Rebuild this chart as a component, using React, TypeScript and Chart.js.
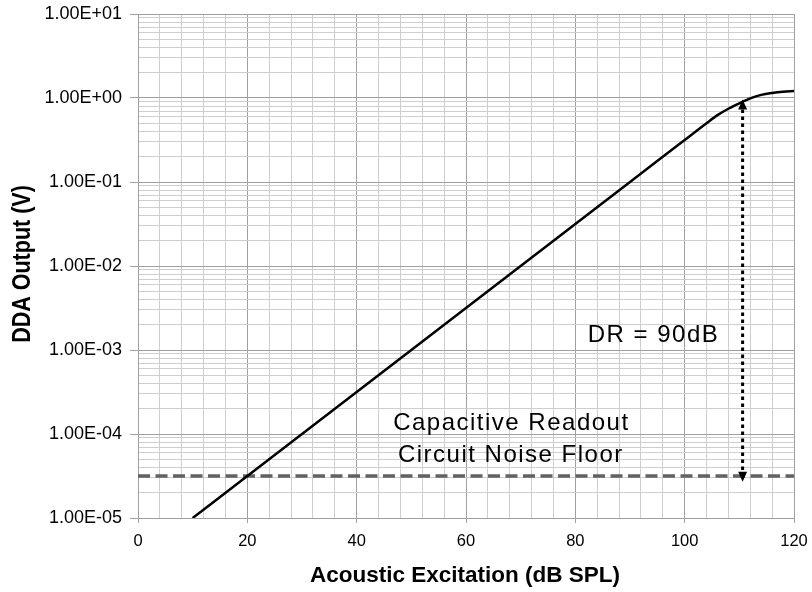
import React, { useEffect, useRef } from "react";
import { Chart, registerables } from "chart.js";

Chart.register(...registerables);

// Transfer curve: acoustic excitation (dB SPL) vs. DDA output (V)
const excitationDb = [10, 20, 30, 40, 50, 60, 70, 80, 90, 100, 104, 106, 108, 110, 112, 114, 116, 118, 120];
const outputVolts = [
  1.0e-5, 3.16e-5, 1.0e-4, 3.16e-4, 1.0e-3, 3.16e-3, 1.0e-2, 3.16e-2, 0.1, 0.316,
  0.501, 0.625, 0.745, 0.865, 0.99, 1.09, 1.15, 1.19, 1.21,
];

// Capacitive readout circuit noise floor
const noiseFloorDb = [0, 120];
const noiseFloorVolts = [3.16e-5, 3.16e-5];

// Dynamic-range marker (vertical double arrow)
const dynamicRangeDb = 110.6;
const dynamicRangeTopVolts = 0.96;
const dynamicRangeBottomVolts = 2.7e-5;

// Axis ticks
const xTickLabels = [0, 20, 40, 60, 80, 100, 120];
const xMinorStep = 4;
const yDecades = [1e-5, 1e-4, 1e-3, 1e-2, 1e-1, 1e0, 1e1];
const yDecadeLabels = ["1.00E-05", "1.00E-04", "1.00E-03", "1.00E-02", "1.00E-01", "1.00E+00", "1.00E+01"];
const yMinorMultipliers = [2, 3, 4, 5, 6, 7, 8, 9];

const FONT = "'Liberation Sans', Arial, Helvetica, sans-serif";
const MAJOR_GRID = "#a0a0a0";
const MINOR_GRID = "#cecece";

const isDecade = (v: number) => Math.abs(Math.log10(v) - Math.round(Math.log10(v))) < 1e-9;

const annotationPlugin = {
  id: "ddaAnnotations",
  afterDatasetsDraw(chart: any) {
    const { ctx, scales } = chart;
    const xs = scales.x;
    const ys = scales.y;
    const x = xs.getPixelForValue(dynamicRangeDb);
    const yTop = ys.getPixelForValue(dynamicRangeTopVolts);
    const yBot = ys.getPixelForValue(dynamicRangeBottomVolts);
    const head = 10;
    const half = 4.5;
    ctx.save();
    ctx.strokeStyle = "#000";
    ctx.lineWidth = 3;
    ctx.setLineDash([3.5, 3.5]);
    ctx.beginPath();
    ctx.moveTo(x, yTop + head);
    ctx.lineTo(x, yBot - head);
    ctx.stroke();
    ctx.setLineDash([]);
    ctx.fillStyle = "#000";
    ctx.beginPath();
    ctx.moveTo(x, yTop);
    ctx.lineTo(x - half, yTop + head);
    ctx.lineTo(x + half, yTop + head);
    ctx.closePath();
    ctx.fill();
    ctx.beginPath();
    ctx.moveTo(x, yBot);
    ctx.lineTo(x - half, yBot - head);
    ctx.lineTo(x + half, yBot - head);
    ctx.closePath();
    ctx.fill();
    ctx.restore();
  },
  afterDraw(chart: any) {
    const { ctx, scales, chartArea } = chart;
    const xs = scales.x;
    const ys = scales.y;
    ctx.save();
    ctx.fillStyle = "#000";
    ctx.textAlign = "center";
    ctx.textBaseline = "alphabetic";
    (ctx as any).letterSpacing = "1.5px";
    ctx.font = `24px ${FONT}`;
    ctx.fillText("DR = 90dB", xs.getPixelForValue(94.3), ys.getPixelForValue(1.26e-3));
    ctx.fillText("Capacitive Readout", xs.getPixelForValue(68.3), ys.getPixelForValue(1.117e-4));
    ctx.fillText("Circuit Noise Floor", xs.getPixelForValue(68.2), ys.getPixelForValue(4.64e-5));
    (ctx as any).letterSpacing = "0px";

    // Axis titles
    ctx.font = `bold 22.5px ${FONT}`;
    ctx.fillText("Acoustic Excitation (dB SPL)", (chartArea.left + chartArea.right) / 2 - 1, 582);

    ctx.translate(23, (chartArea.top + chartArea.bottom) / 2 - 2);
    ctx.rotate(-Math.PI / 2);
    ctx.scale(0.86, 1);
    ctx.textBaseline = "middle";
    ctx.font = `bold 25px ${FONT}`;
    ctx.fillText("DDA Output (V)", 0, 0);
    ctx.restore();
  },
};

export default function App() {
  const canvasRef = useRef<HTMLCanvasElement | null>(null);

  useEffect(() => {
    if (!canvasRef.current) return;
    const chart = new Chart(canvasRef.current, {
      type: "line",
      data: {
        datasets: [
          {
            label: "DDA output",
            data: excitationDb.map((x, i) => ({ x, y: outputVolts[i] })),
            borderColor: "#000",
            borderWidth: 2.5,
            pointRadius: 0,
            cubicInterpolationMode: "monotone",
            fill: false,
          },
          {
            label: "Noise floor",
            data: noiseFloorDb.map((x, i) => ({ x, y: noiseFloorVolts[i] })),
            borderColor: "#626262",
            borderWidth: 3.5,
            borderDash: [12, 5.5],
            pointRadius: 0,
            fill: false,
          },
        ],
      },
      options: {
        responsive: false,
        animation: false,
        devicePixelRatio: 1,
        layout: { padding: { top: 14, right: 18, left: 0, bottom: 0 } },
        plugins: { legend: { display: false }, tooltip: { enabled: false } },
        scales: {
          x: {
            type: "linear",
            min: 0,
            max: 120,
            afterFit: (scale: any) => {
              scale.height = 74;
              scale.paddingLeft = 0;
              scale.paddingRight = 0;
            },
            ticks: {
              stepSize: xMinorStep,
              autoSkip: false,
              maxRotation: 0,
              padding: 9,
              color: "#000",
              font: { family: FONT, size: 16.5 },
              callback: (v: any) => (xTickLabels.includes(Number(v)) ? String(v) : ""),
            },
            grid: {
              color: (c: any) => (c.tick && xTickLabels.includes(c.tick.value) ? MAJOR_GRID : MINOR_GRID),
              tickColor: (c: any) =>
                c.tick && xTickLabels.includes(c.tick.value) ? MAJOR_GRID : "rgba(0,0,0,0)",
              tickLength: 5,
              lineWidth: 1,
            },
            border: { display: true, color: MAJOR_GRID, width: 1 },
          },
          y: {
            type: "logarithmic",
            min: 1e-5,
            max: 10,
            afterFit: (scale: any) => {
              scale.width = 138;
              scale.paddingTop = 0;
              scale.paddingBottom = 0;
            },
            afterBuildTicks: (scale: any) => {
              const ticks: any[] = [];
              yDecades.forEach((d, i) => {
                ticks.push({ value: d, major: true });
                if (i < yDecades.length - 1) {
                  yMinorMultipliers.forEach((m) => ticks.push({ value: d * m, major: false }));
                }
              });
              scale.ticks = ticks;
            },
            ticks: {
              autoSkip: false,
              padding: 8,
              color: "#000",
              font: { family: FONT, size: 18 },
              callback: (v: any) => {
                const idx = yDecades.findIndex((d) => Math.abs(d - Number(v)) / d < 1e-9);
                return idx >= 0 ? yDecadeLabels[idx] : "";
              },
            },
            grid: {
              color: (c: any) => (c.tick && isDecade(c.tick.value) ? MAJOR_GRID : MINOR_GRID),
              tickColor: (c: any) => (c.tick && isDecade(c.tick.value) ? MAJOR_GRID : "rgba(0,0,0,0)"),
              tickLength: 8,
              lineWidth: 1,
            },
            border: { display: true, color: MAJOR_GRID, width: 1 },
          },
        },
      },
      plugins: [annotationPlugin],
    } as any);
    return () => chart.destroy();
  }, []);

  return (
    <div style={{ position: "fixed", left: 0, top: 0, width: 812, height: 592, background: "#fff" }}>
      <canvas ref={canvasRef} width={812} height={592} style={{ display: "block" }} />
    </div>
  );
}
